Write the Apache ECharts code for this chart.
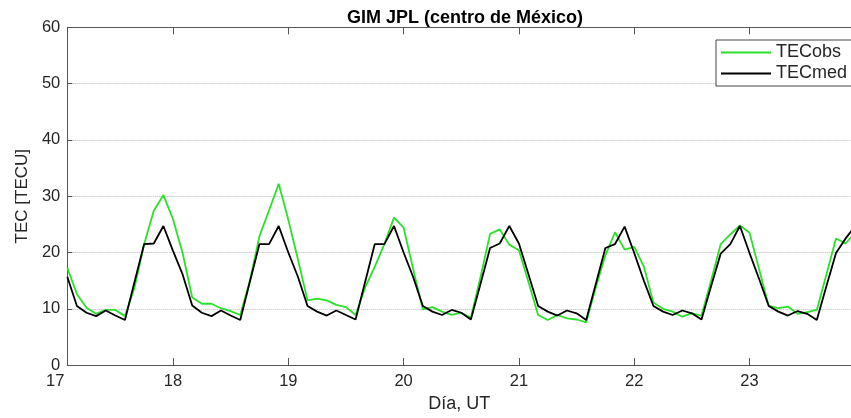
<!DOCTYPE html>
<html>
<head>
<meta charset="utf-8">
<script src="https://cdn.jsdelivr.net/npm/echarts@6/dist/echarts.min.js"></script>
<style>
  html, body { margin: 0; padding: 0; background: #fff; }
  #main { width: 851px; height: 418px; }
</style>
</head>
<body>
<div id="main"></div>
<script>
// 2-hourly samples, first one at 02 UT of day 17
var startDay = 17;
var firstHour = 2;
var stepHours = 2;
var dayTicks = [17, 18, 19, 20, 21, 22, 23];

var tecObs = [
  17.3, 12.6, 10.2, 9.1, 9.8, 9.8, 8.7, 13.8, 21.5, 27.4, 30.2, 25.9,
  19.9, 12.0, 10.9, 10.9, 10.1, 9.6, 8.9, 15.0, 22.9, 27.5, 32.2, 25.8,
  18.8, 11.5, 11.8, 11.5, 10.7, 10.3, 8.9, 13.8, 17.5, 21.5, 26.2, 24.4,
  17.0, 9.9, 10.3, 9.5, 8.9, 9.3, 8.4, 15.6, 23.3, 24.1, 21.4, 20.4,
  14.7, 8.9, 8.0, 8.9, 8.3, 8.1, 7.6, 13.8, 19.5, 23.6, 20.5, 21.0,
  17.5, 11.1, 10.0, 9.5, 8.6, 9.2, 8.8, 15.0, 21.5, 23.2, 24.8, 23.5,
  17.0, 10.5, 10.1, 10.4, 9.1, 9.4, 9.8, 16.1, 22.5, 21.6, 23.5, 21.0
];
var tecMed = [
  15.7, 10.5, 9.3, 8.7, 9.7, 8.8, 8.0, 14.8, 21.5, 21.6, 24.7, 20.3,
  16.1, 10.6, 9.3, 8.7, 9.7, 8.8, 8.0, 14.8, 21.5, 21.5, 24.7, 20.0,
  15.7, 10.5, 9.5, 8.8, 9.7, 8.9, 8.1, 14.8, 21.5, 21.5, 24.7, 20.0,
  15.6, 10.5, 9.5, 8.9, 9.8, 9.3, 8.1, 14.4, 20.8, 21.6, 24.7, 21.6,
  16.1, 10.5, 9.5, 8.8, 9.7, 9.2, 8.0, 14.4, 20.8, 21.5, 24.6, 19.9,
  15.0, 10.5, 9.5, 8.9, 9.7, 9.2, 8.1, 14.0, 19.8, 21.5, 24.7, 19.9,
  15.3, 10.5, 9.5, 8.8, 9.6, 9.1, 8.0, 14.0, 19.9, 22.5, 24.7, 20.0
];

var chartDom = document.getElementById('main');
var myChart = echarts.init(chartDom);

var font = "'Liberation Sans', Arial, sans-serif";
var textColor = '#262626';
var axisColor = '#555';
var xMin = startDay + firstHour / 24;
var xMax = 23.88; // the figure is cut at the right edge of the picture

function toPairs(vals) {
  return vals.map(function (v, i) {
    return [startDay + (firstHour + stepHours * i) / 24, v];
  });
}

var labelValues = dayTicks.map(function (d) { return d < xMin ? xMin : d; });
var tickValues = dayTicks.filter(function (d) { return d > xMin; });

var option = {
  animation: false,
  backgroundColor: '#fff',
  title: {
    text: 'GIM JPL (centro de México)',
    left: 347,
    top: 9,
    padding: 0,
    textStyle: { fontFamily: font, fontSize: 18, fontWeight: 'bold', color: '#000' }
  },
  legend: {
    orient: 'vertical',
    left: 716,
    top: 40,
    padding: [3, 24, 3, 5],
    itemGap: 2,
    itemWidth: 50,
    itemHeight: 2,
    icon: 'rect',
    backgroundColor: '#fff',
    borderColor: '#444',
    borderWidth: 1,
    borderRadius: 0,
    textStyle: { fontFamily: font, fontSize: 18, color: textColor, lineHeight: 19 },
    data: ['TECobs', 'TECmed']
  },
  grid: { left: 67.3, top: 27.3, right: 0, bottom: 44.7, containLabel: false },
  xAxis: [
    {
      type: 'value',
      min: xMin,
      max: xMax,
      name: 'Día, UT',
      nameLocation: 'middle',
      nameGap: 27,
      nameTextStyle: { fontFamily: font, fontSize: 18, color: textColor },
      axisLine: { show: true, lineStyle: { color: axisColor, width: 1 } },
      axisTick: { show: true, inside: true, length: 7, customValues: tickValues, lineStyle: { color: axisColor } },
      axisLabel: {
        customValues: labelValues,
        margin: 8,
        fontFamily: font,
        fontSize: 16.5,
        color: textColor,
        formatter: function (v) {
          var d = Math.floor(v + 1e-6);
          return v < startDay + 0.5 ? '{m|' + d + '}' : String(d);
        },
        rich: {
          m: { fontFamily: font, fontSize: 16.5, color: textColor, padding: [0, 24, 0, 0] }
        }
      },
      splitLine: { show: false }
    },
    {
      type: 'value',
      position: 'top',
      min: xMin,
      max: xMax,
      axisLine: { show: true, lineStyle: { color: axisColor, width: 1 } },
      axisTick: { show: true, inside: true, length: 7, customValues: tickValues, lineStyle: { color: axisColor } },
      axisLabel: { show: false },
      splitLine: { show: false }
    }
  ],
  yAxis: {
    type: 'value',
    min: 0,
    max: 60,
    interval: 10,
    name: 'TEC [TECU]',
    nameLocation: 'middle',
    nameGap: 34,
    nameRotate: 90,
    nameTextStyle: { fontFamily: font, fontSize: 17, color: textColor },
    axisLine: { show: true, lineStyle: { color: axisColor, width: 1 } },
    axisTick: { show: true, inside: true, length: 5, lineStyle: { color: axisColor } },
    axisLabel: { margin: 7, fontFamily: font, fontSize: 16.5, color: textColor },
    splitLine: { show: true, lineStyle: { color: '#b8b8b8', type: 'dotted', width: 1 } }
  },
  series: [
    {
      name: 'TECobs',
      type: 'line',
      xAxisIndex: 0,
      data: toPairs(tecObs),
      symbol: 'none',
      lineStyle: { color: '#2be02b', width: 1.8 },
      itemStyle: { color: '#2be02b' }
    },
    {
      name: 'TECmed',
      type: 'line',
      xAxisIndex: 0,
      data: toPairs(tecMed),
      symbol: 'none',
      lineStyle: { color: '#000', width: 1.8 },
      itemStyle: { color: '#000' }
    }
  ]
};

option && myChart.setOption(option);
</script>
</body>
</html>
